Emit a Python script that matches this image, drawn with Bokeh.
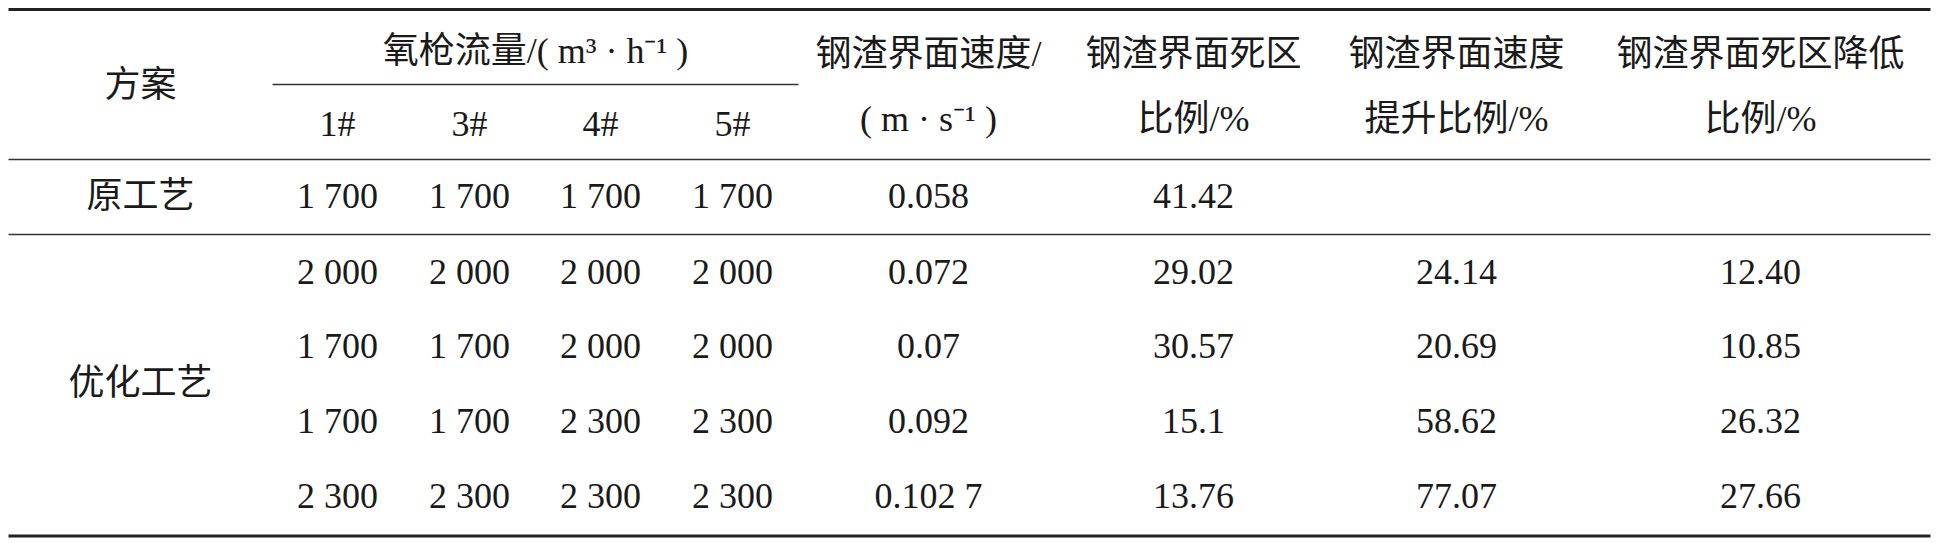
from bokeh.plotting import figure
from bokeh.models import Range1d
from bokeh.core.properties import value
from bokeh.embed import file_html
from bokeh.resources import INLINE

# ---- data ----
header_scheme = "方案"
header_flow = "氧枪流量/( m³ · h⁻¹ )"
lance_labels = ["1#", "3#", "4#", "5#"]
header_speed = ["钢渣界面速度/", "( m · s⁻¹ )"]
header_dead = ["钢渣界面死区", "比例/%"]
header_speed_up = ["钢渣界面速度", "提升比例/%"]
header_dead_down = ["钢渣界面死区降低", "比例/%"]

schemes = ["原工艺", "优化工艺"]
lance1 = ["1 700", "2 000", "1 700", "1 700", "2 300"]
lance3 = ["1 700", "2 000", "1 700", "1 700", "2 300"]
lance4 = ["1 700", "2 000", "2 000", "2 300", "2 300"]
lance5 = ["1 700", "2 000", "2 000", "2 300", "2 300"]
speed = ["0.058", "0.072", "0.07", "0.092", "0.102 7"]
dead_ratio = ["41.42", "29.02", "30.57", "15.1", "13.76"]
speed_up = ["", "24.14", "20.69", "58.62", "77.07"]
dead_down = ["", "12.40", "10.85", "26.32", "27.66"]

# ---- layout (screen px) ----
W, H = 1937, 543
col_x = [140, 337, 469, 600, 732, 928, 1193, 1456, 1760]
row_y = [195, 271, 345, 420, 495]
FONT = value("Liberation Serif, Noto Sans CJK SC")
FS = "36px"
INK = "#1a1a1a"

p = figure(width=W, height=H, output_backend="svg", toolbar_location=None,
           x_range=Range1d(0, W), y_range=Range1d(H, 0),
           min_border=0, outline_line_color=None)
p.axis.visible = False
p.grid.visible = False
p.background_fill_color = "white"
p.border_fill_color = "white"

# rules
p.segment(x0=[8, 8], x1=[1930, 1930], y0=[9, 535.5], y1=[9, 535.5],
          line_color="#222222", line_width=3.2)
p.segment(x0=[8, 8, 272], x1=[1930, 1930, 798], y0=[159, 234, 84], y1=[159, 234, 84],
          line_color="#333333", line_width=1.6)

def txt(xs, ys, texts):
    p.text(x=xs, y=ys, text=texts, text_font=FONT, text_font_size=FS,
           text_align="center", text_baseline="middle", text_color=INK)

# header
txt([col_x[0]], [84], [header_scheme])
txt([(272 + 798) / 2], [50], [header_flow])
txt(col_x[1:5], [123] * 4, lance_labels)
for cx, lines in zip(col_x[5:], [header_speed, header_dead, header_speed_up, header_dead_down]):
    txt([cx, cx], [53, 118], lines)

# body
opt_center = sum(row_y[1:]) / len(row_y[1:])
txt([col_x[0], col_x[0]], [row_y[0], opt_center], schemes)
for cx, col in zip(col_x[1:], [lance1, lance3, lance4, lance5, speed, dead_ratio, speed_up, dead_down]):
    txt([cx] * len(row_y), row_y, col)

open("out.html", "w").write(file_html(p, INLINE))
